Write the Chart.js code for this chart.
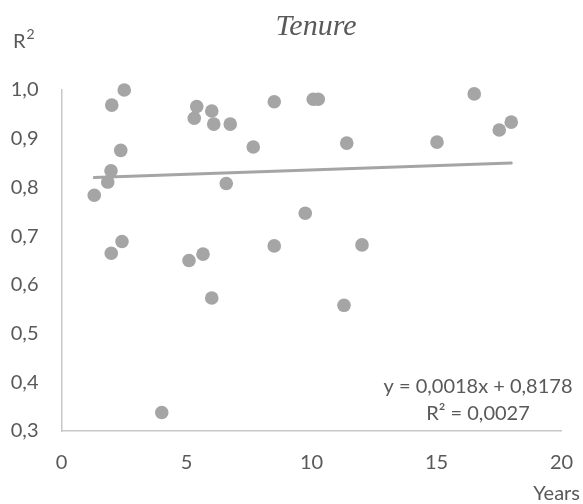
<!DOCTYPE html>
<html>
<head>
<meta charset="utf-8">
<script src="https://cdn.jsdelivr.net/npm/chart.js@4/dist/chart.umd.min.js"></script>
<style>
    html, body { margin: 0; padding: 0; background: #ffffff; }
    #wrap { width: 583px; height: 504px; position: relative; }
</style>
</head>
<body>
<div id="wrap"><canvas id="tenureChart"></canvas></div>
<script>
// Tenure vs R² — scatter with linear trend line

// ---- Data ----
const tenureYears = [
    2.51, 2.01, 5.41, 6.01, 5.31, 6.09, 6.75, 2.37, 1.98, 1.85,
    1.31, 6.59, 2.42, 1.99, 5.66, 5.10, 6.01, 8.51, 10.07, 10.27,
    7.67, 11.41, 9.75, 8.51, 12.02, 11.30, 16.51, 17.99, 17.51, 15.02,
    4.01
];
const rSquared = [
    1.000, 0.969, 0.966, 0.957, 0.942, 0.930, 0.930, 0.876, 0.834, 0.811,
    0.784, 0.808, 0.689, 0.665, 0.663, 0.650, 0.573, 0.976, 0.981, 0.981,
    0.883, 0.891, 0.747, 0.680, 0.682, 0.558, 0.992, 0.934, 0.918, 0.893,
    0.338
];
const xTicks = [0, 5, 10, 15, 20];
const yTicks = [0.3, 0.4, 0.5, 0.6, 0.7, 0.8, 0.9, 1.0];

const trendSlope = 0.0018;
const trendIntercept = 0.8178;
const trendR2 = 0.0027;

// ---- Helpers ----
const TEXT_COLOR = '#595959';
const MARK_COLOR = '#a5a5a5';
const FONT = 'Lato, "Open Sans", sans-serif';

function fmtComma(v, digits) {
    return v.toFixed(digits).replace('.', ',');
}

const points = tenureYears.map((x, i) => ({ x: x, y: rSquared[i] }));
const xMin = Math.min(...tenureYears);
const xMax = Math.max(...tenureYears);
const trendPoints = [
    { x: xMin, y: trendSlope * xMin + trendIntercept },
    { x: xMax, y: trendSlope * xMax + trendIntercept },
];

// Texts outside the chart area: title, axis titles, equation
const labelsPlugin = {
    id: 'labels',
    afterDraw(chart) {
        const ctx = chart.ctx;
        ctx.save();
        ctx.fillStyle = TEXT_COLOR;

        // Title
        ctx.font = 'italic 30px "Liberation Serif", "DejaVu Serif", serif';
        ctx.textAlign = 'center';
        ctx.textBaseline = 'alphabetic';
        ctx.fillText('Tenure', 316, 35);

        // R² (y axis title)
        ctx.font = '20px ' + FONT;
        ctx.textAlign = 'left';
        ctx.fillText('R', 13, 48);
        const rw = ctx.measureText('R').width;
        ctx.font = '14px ' + FONT;
        ctx.fillText('2', 13 + rw + 1, 39);

        // Years (x axis title)
        ctx.font = '20px ' + FONT;
        ctx.textAlign = 'right';
        ctx.fillText('Years', 580, 500);

        // Trend equation
        ctx.textAlign = 'center';
        const eq = 'y = ' + fmtComma(trendSlope, 4) + 'x + ' + fmtComma(trendIntercept, 4);
        ctx.fillText(eq, 478, 393);
        ctx.fillText('R² = ' + fmtComma(trendR2, 4), 478, 420);

        ctx.restore();
    }
};

new Chart(document.getElementById('tenureChart'), {
    type: 'scatter',
    data: {
        datasets: [{
            type: 'line',
            data: trendPoints,
            borderColor: MARK_COLOR,
            borderWidth: 3,
            borderCapStyle: 'round',
            pointRadius: 0,
            fill: false,
            clip: false,
        }, {
            data: points,
            backgroundColor: MARK_COLOR,
            borderWidth: 0,
            pointRadius: 6.8,
            pointHoverRadius: 6.8,
            clip: false,
        }]
    },
    options: {
        responsive: true,
        maintainAspectRatio: false,
        animation: false,
        events: [],
        layout: {
            padding: { top: 90, left: 0, right: 21.5, bottom: 0 }
        },
        plugins: {
            legend: { display: false },
            tooltip: { enabled: false },
        },
        scales: {
            x: {
                type: 'linear',
                min: 0,
                max: 20,
                afterBuildTicks: s => { s.ticks = xTicks.map(v => ({ value: v })); },
                afterFit: s => { s.height = 73; s.paddingLeft = 0; s.paddingRight = 0; },
                border: { display: true, color: '#c8c8c8', width: 1.5 },
                grid: { display: false, drawTicks: false, tickLength: 0 },
                ticks: {
                    color: TEXT_COLOR,
                    font: { size: 20, family: FONT },
                    padding: 20,
                    maxRotation: 0,
                    callback: v => String(v),
                },
            },
            y: {
                type: 'linear',
                min: 0.3,
                max: 1.0,
                afterBuildTicks: s => { s.ticks = yTicks.map(v => ({ value: v })); },
                afterFit: s => { s.width = 61.5; s.paddingTop = 0; s.paddingBottom = 0; },
                border: { display: true, color: '#c8c8c8', width: 1.5 },
                grid: { display: false, drawTicks: false, tickLength: 0 },
                ticks: {
                    color: TEXT_COLOR,
                    font: { size: 20, family: FONT },
                    padding: 23,
                    callback: v => fmtComma(v, 1),
                },
            }
        }
    },
    plugins: [labelsPlugin]
});
</script>
</body>
</html>
